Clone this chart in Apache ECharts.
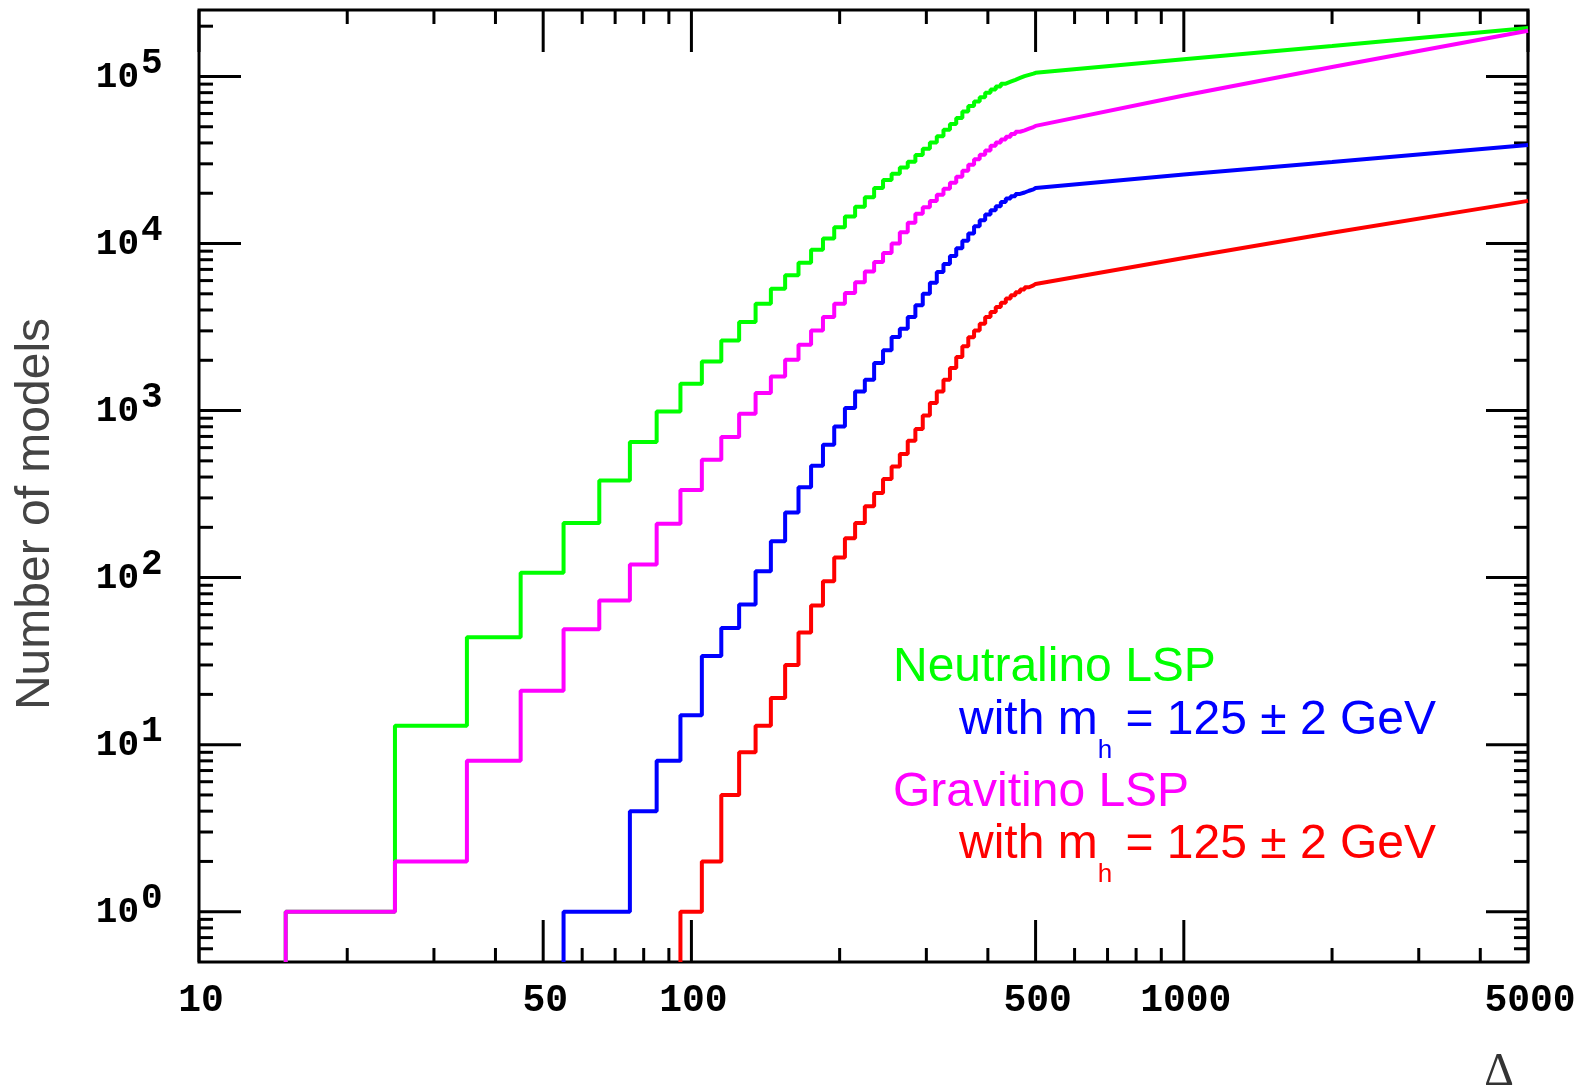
<!DOCTYPE html>
<html>
<head>
<meta charset="utf-8">
<title>Cumulative number of models vs fine-tuning</title>
<script src="https://cdn.jsdelivr.net/npm/echarts@6/dist/echarts.min.js"></script>
<style>
  html, body { margin: 0; padding: 0; background: #fff; }
  #chart { width: 1580px; height: 1087px; }
</style>
</head>
<body>
<div id="chart"></div>
<script>
// Axis ranges (both axes logarithmic)
const X_RANGE = [10, 5000];
const Y_RANGE = [0.5, 250000];

// Histogram bin left edges (width 10); the last bin closes at STEP_END
const binEdges = [15, 25, 35, 45, 55, 65, 75, 85, 95,
  105, 115, 125, 135, 145, 155, 165, 175, 185, 195,
  205, 215, 225, 235, 245, 255, 265, 275, 285, 295,
  305, 315, 325, 335, 345, 355, 365, 375, 385, 395,
  405, 415, 425, 435, 445, 455, 465, 475, 485, 495];
const STEP_END = 500;

// Cumulative counts per bin, starting at the first edge of each curve
const greenFirstEdge = 15;
const greenBins = [1, 13, 44, 107, 212, 381, 648, 988, 1448,
  1969, 2630, 3390, 4360, 5370, 6450, 7660, 9190, 10700, 12500,
  14500, 16600, 18900, 21500, 24000, 26200, 28500, 30900, 33900, 36900,
  40300, 43900, 47900, 52000, 56500, 61700, 66500, 70800, 75200, 80000,
  83600, 87100, 90600, 93100, 95500, 98000, 100500, 102300, 104000, 105200];

const magentaFirstEdge = 15;
const magentaBins = [1, 2, 8, 21, 49, 73, 120, 210, 335,
  507, 694, 957, 1273, 1601, 2015, 2477, 3020, 3632, 4365,
  5060, 5860, 6810, 7760, 8790, 10000, 11700, 13300, 15100, 16500,
  18000, 19600, 21300, 23100, 25100, 27300, 29600, 31900, 34000, 36100,
  38500, 40300, 41900, 43600, 45300, 46700, 47600, 48700, 49800, 50600];

const blueFirstEdge = 55;
const blueBins = [1, 1, 4, 8, 15,
  34, 50, 69, 109, 165, 245, 348, 467, 624, 803,
  1036, 1302, 1530, 1926, 2293, 2756, 3090, 3630, 4270, 5010,
  5820, 6760, 7550, 8410, 9380, 10400, 11500, 12700, 13800, 14900,
  15800, 16700, 17700, 18600, 19200, 19800, 20200, 20700, 21100, 21500];

const redFirstEdge = 95;
const redBins = [1,
  2, 5, 9, 13, 19, 30, 47, 68, 95, 132,
  172, 212, 267, 321, 389, 463, 550, 660, 776, 933,
  1110, 1300, 1530, 1800, 2090, 2430, 2750, 3020, 3310, 3630,
  3890, 4170, 4420, 4680, 4900, 5110, 5300, 5470, 5620, 5730];

// Coarse tail above 500
const tailX = [500, 1000, 2000, 5000];
const greenTail = [105800, 127000, 152000, 195000];
const magentaTail = [51200, 77000, 114000, 188000];
const blueTail = [21700, 25900, 30800, 38900];
const redTail = [5740, 8200, 11600, 18000];

// Tick positions and labels
const xMajorTicks = [10, 50, 100, 500, 1000, 5000];
const xTickLabels = ['10', '50', '100', '500', '1000', '5000'];
const xMinorTicks = [20, 30, 40, 60, 70, 80, 90, 200, 300, 400, 600, 700, 800, 900, 2000, 3000, 4000];
const yMajorTicks = [1, 10, 100, 1000, 10000, 100000];
const yTickExponents = ['0', '1', '2', '3', '4', '5'];
const yMinorTicks = [0.6, 0.7, 0.8, 0.9,
  2, 3, 4, 5, 6, 7, 8, 9,
  20, 30, 40, 50, 60, 70, 80, 90,
  200, 300, 400, 500, 600, 700, 800, 900,
  2000, 3000, 4000, 5000, 6000, 7000, 8000, 9000,
  20000, 30000, 40000, 50000, 60000, 70000, 80000, 90000,
  200000];

// Stair path: rise from the axis floor, flat across each bin, then the tail
function buildPath(firstEdge, bins, tail) {
  const start = binEdges.indexOf(firstEdge);
  const pts = [[firstEdge, Y_RANGE[0]]];
  bins.forEach(function (v, i) {
    const left = binEdges[start + i];
    const right = (start + i + 1 < binEdges.length) ? binEdges[start + i + 1] : STEP_END;
    pts.push([left, v], [right, v]);
  });
  tailX.forEach(function (x, i) { pts.push([x, tail[i]]); });
  return pts;
}

const MAJOR_LEN = 42, MINOR_LEN = 14, TICK_W = 3;
const xTickFont = 'bold 38px "Liberation Mono", "DejaVu Sans Mono", monospace';
const yTickFont = 'bold 36px "Liberation Mono", "DejaVu Sans Mono", monospace';

function line(x1, y1, x2, y2) {
  return { type: 'line', shape: { x1: x1, y1: y1, x2: x2, y2: y2 },
    style: { stroke: '#000', lineWidth: TICK_W } };
}

const xTickData = xMajorTicks.map(function (v, i) { return [v, Y_RANGE[0], 1, i]; })
  .concat(xMinorTicks.map(function (v) { return [v, Y_RANGE[0], 0, -1]; }));
const yTickData = yMajorTicks.map(function (v, i) { return [X_RANGE[0], v, 1, i]; })
  .concat(yMinorTicks.map(function (v) { return [X_RANGE[0], v, 0, -1]; }));

function renderXTick(params, api) {
  const x = api.value(0);
  const major = api.value(2) === 1;
  const b = api.coord([x, Y_RANGE[0]]);
  const t = api.coord([x, Y_RANGE[1]]);
  const len = major ? MAJOR_LEN : MINOR_LEN;
  const children = [line(b[0], b[1], b[0], b[1] - len), line(t[0], t[1], t[0], t[1] + len)];
  if (major) {
    children.push({ type: 'text', x: b[0] + 2, y: b[1] + 39,
      style: { text: xTickLabels[api.value(3)], font: xTickFont, fill: '#000',
        align: 'center', verticalAlign: 'middle' } });
  }
  return { type: 'group', children: children };
}

function renderYTick(params, api) {
  const y = api.value(1);
  const major = api.value(2) === 1;
  const l = api.coord([X_RANGE[0], y]);
  const r = api.coord([X_RANGE[1], y]);
  const len = major ? MAJOR_LEN : MINOR_LEN;
  const children = [line(l[0], l[1], l[0] + len, l[1]), line(r[0], r[1], r[0] - len, r[1])];
  if (major) {
    children.push({ type: 'text', x: l[0] - 60, y: l[1] + 1,
      style: { text: '10', font: yTickFont, fill: '#000', align: 'right', verticalAlign: 'middle' } });
    children.push({ type: 'text', x: l[0] - 58, y: l[1] - 13,
      style: { text: yTickExponents[api.value(3)], font: yTickFont, fill: '#000', align: 'left', verticalAlign: 'middle' } });
  }
  return { type: 'group', children: children };
}

function curve(name, color, data) {
  return { name: name, type: 'line', data: data, showSymbol: false, symbol: 'none',
    lineStyle: { color: color, width: 4 }, itemStyle: { color: color },
    clip: true, z: 3, animation: false, silent: true };
}

const chart = echarts.init(document.getElementById('chart'), null, { renderer: 'canvas' });
const legendFont = '"Liberation Sans", Arial, sans-serif';

function massLine(y, color) {
  return { type: 'text', x: 959, y: y, z: 10,
    style: { text: '{a|with m}{s|h}{a| = 125 ± 2 GeV}', align: 'left', verticalAlign: 'top',
      fill: color,
      rich: {
        a: { fontSize: 48, fontFamily: legendFont, fill: color, lineHeight: 48, verticalAlign: 'top' },
        s: { fontSize: 26, fontFamily: legendFont, fill: color, lineHeight: 26, verticalAlign: 'top', padding: [41, 0, 0, 0] }
      } } };
}

chart.setOption({
  animation: false,
  backgroundColor: '#fff',
  grid: { left: 199, right: 52, top: 10, bottom: 125, show: true,
    borderColor: '#000', borderWidth: 3, backgroundColor: 'transparent' },
  xAxis: { type: 'log', logBase: 10, min: X_RANGE[0], max: X_RANGE[1],
    axisLine: { show: false }, axisTick: { show: false }, axisLabel: { show: false },
    splitLine: { show: false }, minorTick: { show: false } },
  yAxis: { type: 'log', logBase: 10, min: Y_RANGE[0], max: Y_RANGE[1],
    axisLine: { show: false }, axisTick: { show: false }, axisLabel: { show: false },
    splitLine: { show: false }, minorTick: { show: false } },
  series: [
    { type: 'custom', name: 'xTicks', coordinateSystem: 'cartesian2d', data: xTickData,
      encode: { x: 0, y: 1 }, renderItem: renderXTick, z: 1, silent: true, clip: false },
    { type: 'custom', name: 'yTicks', coordinateSystem: 'cartesian2d', data: yTickData,
      encode: { x: 0, y: 1 }, renderItem: renderYTick, z: 1, silent: true, clip: false },
    curve('Neutralino LSP', '#00ff00', buildPath(greenFirstEdge, greenBins, greenTail)),
    curve('Neutralino LSP, m_h = 125 ± 2 GeV', '#0000ff', buildPath(blueFirstEdge, blueBins, blueTail)),
    curve('Gravitino LSP, m_h = 125 ± 2 GeV', '#ff0000', buildPath(redFirstEdge, redBins, redTail)),
    curve('Gravitino LSP', '#ff00ff', buildPath(magentaFirstEdge, magentaBins, magentaTail))
  ],
  graphic: [
    { type: 'text', x: 36, y: 514, rotation: Math.PI / 2, z: 10,
      style: { text: 'Number of models', font: '48px ' + legendFont, fill: '#444',
        align: 'center', verticalAlign: 'middle' } },
    { type: 'text', x: 1499, y: 1073, z: 10,
      style: { text: 'Δ', font: '46px "Liberation Serif", "DejaVu Serif", serif', fill: '#333',
        align: 'center', verticalAlign: 'middle' } },
    { type: 'text', x: 893, y: 668, z: 10,
      style: { text: 'Neutralino LSP', font: '48px ' + legendFont, fill: '#00ff00',
        align: 'left', verticalAlign: 'middle' } },
    massLine(697, '#0000ff'),
    { type: 'text', x: 893, y: 793, z: 10,
      style: { text: 'Gravitino LSP', font: '48px ' + legendFont, fill: '#ff00ff',
        align: 'left', verticalAlign: 'middle' } },
    massLine(821, '#ff0000')
  ]
});
</script>
</body>
</html>
